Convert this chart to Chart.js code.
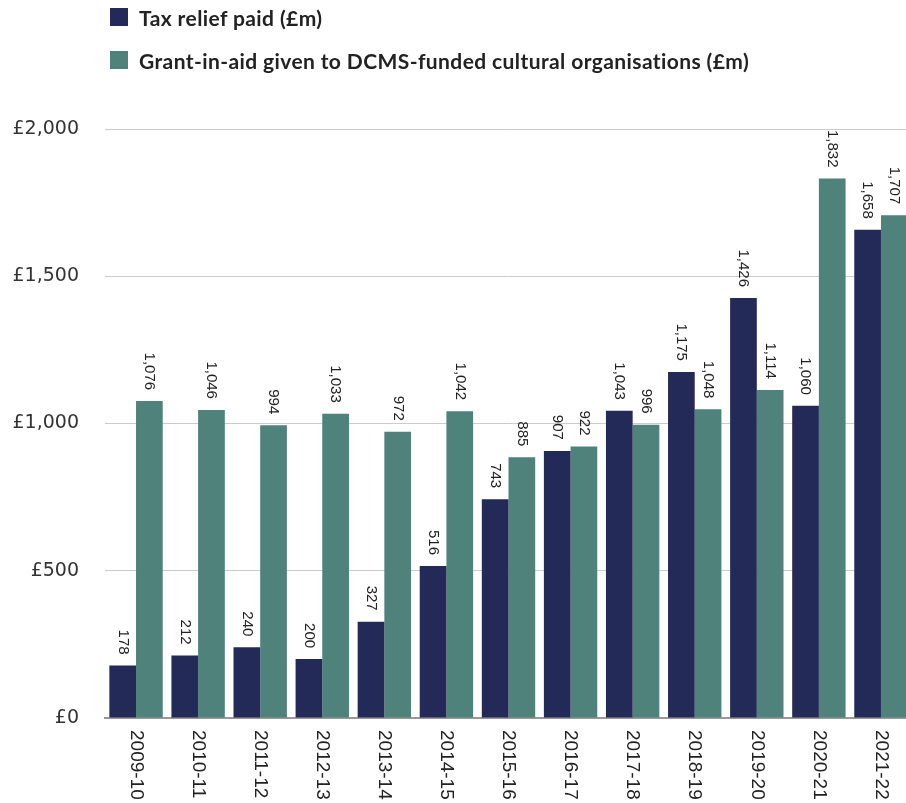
<!DOCTYPE html>
<html>
<head>
<meta charset="utf-8">
<script src="https://cdn.jsdelivr.net/npm/chart.js@4.4.0/dist/chart.umd.min.js"></script>
<style>
  body { margin: 0; background: #fff; }
  #marco { position: relative; width: 906px; height: 803px; overflow: hidden; }
  #leyenda { position: absolute; left: 110px; top: 6px; font: 700 21px Lato, sans-serif; letter-spacing: 0.4px; color: #222; z-index: 2; }
  .item { display: flex; align-items: center; height: 22px; margin-bottom: 21px; }
  .caja { width: 18px; height: 18px; margin-right: 11px; }
  canvas { position: absolute; left: 0; top: 0; }
</style>
</head>
<body>
<div id="marco">
  <div id="leyenda"></div>
  <canvas id="grafico" width="912" height="803"></canvas>
</div>
<script>
// Datos del gráfico
const anos = ["2009-10", "2010-11", "2011-12", "2012-13", "2013-14", "2014-15", "2015-16",
  "2016-17", "2017-18", "2018-19", "2019-20", "2020-21", "2021-22"];
const alivioFiscal = [178, 212, 240, 200, 327, 516, 743, 907, 1043, 1175, 1426, 1060, 1658];
const subvencion = [1076, 1046, 994, 1033, 972, 1042, 885, 922, 996, 1048, 1114, 1832, 1707];
const ticksY = [0, 500, 1000, 1500, 2000];

const colores = ["#242a58", "#4e827a"];
const nombres = ["Tax relief paid (£m)", "Grant-in-aid given to DCMS-funded cultural organisations (£m)"];

// Leyenda en HTML (dos filas)
const leyenda = document.getElementById("leyenda");
nombres.forEach((n, i) => {
  const item = document.createElement("div");
  item.className = "item";
  const caja = document.createElement("span");
  caja.className = "caja";
  caja.style.background = colores[i];
  const texto = document.createElement("span");
  texto.textContent = n;
  item.appendChild(caja);
  item.appendChild(texto);
  leyenda.appendChild(item);
});

// Etiquetas giradas: valores encima de las barras y años bajo el eje
const etiquetas = {
  id: "etiquetas",
  afterDatasetsDraw(chart) {
    const ctx = chart.ctx;
    ctx.save();
    ctx.fillStyle = "#222";
    ctx.font = '15px "Liberation Sans", Arial, sans-serif';
    ctx.textAlign = "right";
    ctx.textBaseline = "middle";
    chart.data.datasets.forEach((ds, i) => {
      chart.getDatasetMeta(i).data.forEach((barra, j) => {
        ctx.save();
        ctx.translate(barra.x, barra.y - 11);
        ctx.rotate(Math.PI / 2);
        ctx.fillText(ds.data[j].toLocaleString("en-GB"), 0, 0);
        ctx.restore();
      });
    });

    const ejeX = chart.scales.x;
    ctx.font = '19px "Liberation Sans", Arial, sans-serif';
    ctx.textAlign = "left";
    anos.forEach((a, j) => {
      ctx.save();
      ctx.translate(ejeX.getPixelForValue(j), chart.chartArea.bottom + 12);
      ctx.rotate(Math.PI / 2);
      ctx.fillText(a, 0, 0);
      ctx.restore();
    });
    ctx.restore();
  }
};

const ctx = document.getElementById("grafico").getContext("2d");
const grafico = new Chart(ctx, {
  type: "bar",
  data: {
    labels: anos,
    datasets: [
      { label: nombres[0], data: alivioFiscal, backgroundColor: colores[0] },
      { label: nombres[1], data: subvencion, backgroundColor: colores[1] }
    ]
  },
  options: {
    responsive: false,
    animation: false,
    categoryPercentage: 0.86,
    barPercentage: 1,
    layout: { padding: { top: 129, bottom: 77, left: 0, right: 0 } },
    plugins: {
      legend: { display: false },
      tooltip: { enabled: false }
    },
    scales: {
      x: {
        ticks: { display: false },
        grid: { display: false },
        border: { color: "#999", width: 2 }
      },
      y: {
        min: 0,
        max: 2000,
        afterBuildTicks: (eje) => { eje.ticks = ticksY.map((v) => ({ value: v })); },
        afterFit: (eje) => { eje.width = 105; },
        ticks: {
          padding: 26,
          color: "#333",
          font: { family: '"DejaVu Sans", sans-serif', size: 19 },
          callback: (v) => "£" + v.toLocaleString("en-GB")
        },
        grid: { color: "#ccc", drawTicks: false },
        border: { display: false }
      }
    }
  },
  plugins: [etiquetas]
});
</script>
</body>
</html>
